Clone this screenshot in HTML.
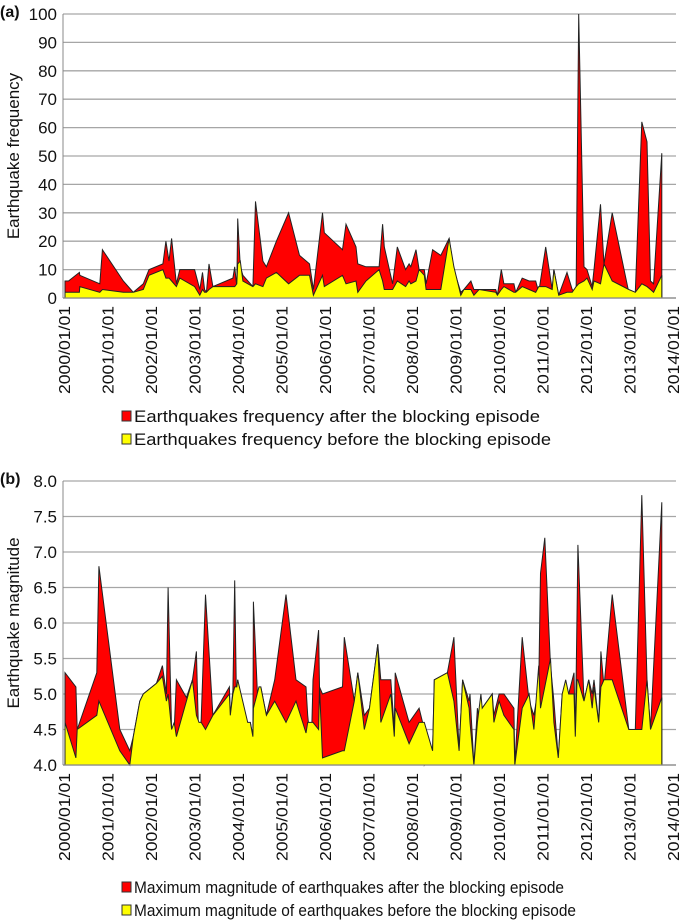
<!DOCTYPE html>
<html><head><meta charset="utf-8"><style>
html,body{margin:0;padding:0;background:#fff;}
svg{display:block;font-family:"Liberation Sans",Arial,sans-serif;}
</style></head><body>
<svg id="c" width="685" height="923" viewBox="0 0 685 923" xmlns="http://www.w3.org/2000/svg"></svg>
<script>
// Chart (a) data: decimal years, frequency after / before
const yearsA=[0.0,0.08,0.33,0.34,0.80,0.86,1.34,1.57,1.80,1.93,2.25,2.32,2.39,2.45,2.56,2.64,2.98,3.10,3.16,3.21,3.25,3.31,3.40,3.86,3.90,3.95,3.97,4.03,4.09,4.32,4.38,4.55,4.63,4.86,5.14,5.39,5.62,5.71,5.92,5.96,6.38,6.46,6.69,6.73,6.92,7.22,7.30,7.34,7.53,7.64,7.83,7.91,7.95,8.07,8.14,8.26,8.30,8.45,8.64,8.83,8.94,9.10,9.17,9.33,9.40,9.52,9.90,9.94,10.03,10.09,10.32,10.36,10.51,10.67,10.82,10.89,11.05,11.20,11.24,11.35,11.54,11.66,11.75,11.81,11.93,12.00,12.12,12.16,12.31,12.39,12.58,12.96,13.11,13.26,13.38,13.46,13.53,13.72];
const afterA=[6,6,9,8,5,17,6,2,5,10,12,20,13,21,5,10,10,3,9,3,2,12,4,7,11,4,28,11,8,4,34,13,11,20,30,15,12,3,30,23,17,26,18,12,11,11,26,18,5,18,10,12,11,17,10,10,5,17,15,21,10,2,3,6,3,3,3,1,10,5,5,2,7,6,6,2,18,3,10,1,9,3,2,100,11,10,4,10,33,12,30,2,2,62,55,6,5,51];
const beforeA=[2,2,2,4,2,3,2,2,3,8,10,7,7,6,4,7,4,1,3,2,2,3,4,4,4,5,12,13,6,4,5,4,7,9,5,8,8,1,8,4,8,5,6,2,6,10,6,3,3,6,4,6,5,6,10,8,3,3,3,21,11,1,3,3,1,3,2,1,3,4,2,2,4,3,2,4,4,3,10,1,2,2,4,5,6,7,3,6,5,12,6,3,2,5,4,3,2,8];
const ticksA=[0,10,20,30,40,50,60,70,80,90,100];
// Chart (b) data: decimal years, max magnitude after / before
const yearsB=[0.0,0.25,0.28,0.73,0.78,1.26,1.49,1.57,1.72,1.80,2.10,2.24,2.33,2.37,2.45,2.51,2.56,2.79,2.93,3.02,3.08,3.13,3.23,3.40,3.78,3.80,3.86,3.90,3.95,3.97,4.20,4.26,4.32,4.33,4.46,4.50,4.63,4.82,5.08,5.31,5.54,5.58,5.66,5.70,5.83,5.85,5.92,6.38,6.42,6.65,6.73,6.88,7.00,7.19,7.26,7.49,7.57,7.59,7.91,8.14,8.22,8.26,8.45,8.49,8.79,8.94,9.06,9.14,9.29,9.31,9.40,9.48,9.56,9.59,9.82,9.86,9.98,10.09,10.32,10.34,10.51,10.67,10.78,10.89,10.93,11.03,11.16,11.24,11.34,11.43,11.51,11.58,11.70,11.73,11.77,11.79,11.93,12.04,12.12,12.16,12.27,12.32,12.39,12.58,12.96,13.11,13.26,13.38,13.46,13.72];
const afterB=[5.3,5.1,4.5,5.3,6.8,4.5,4.2,4.4,4.9,5.0,5.15,5.4,5.0,6.5,4.5,4.5,5.2,4.95,5.2,5.6,4.2,4.65,6.4,4.7,5.1,4.7,5.05,6.6,4.6,5.2,4.3,4.6,4.4,6.3,4.5,5.1,4.7,5.2,6.4,5.2,5.1,4.7,4.2,5.2,5.9,5.1,5.0,5.1,5.8,4.9,5.3,4.7,4.8,5.7,5.2,5.2,4.5,5.3,4.6,4.8,4.6,4.0,4.2,5.2,5.3,5.8,4.2,5.2,4.9,5.0,4.0,4.8,4.5,4.8,5.0,4.7,5.0,5.0,4.8,4.0,5.8,4.9,4.7,5.1,6.7,7.2,5.4,4.9,4.1,5.0,4.7,5.0,5.3,4.4,6.1,7.1,4.9,5.2,5.0,5.2,4.6,5.6,5.1,6.4,4.5,4.5,7.8,5.2,4.5,7.7];
const beforeB=[4.6,4.1,4.5,4.7,4.9,4.2,4.0,4.4,4.9,5.0,5.15,5.25,4.9,5.0,4.5,4.6,4.4,4.9,5.2,4.7,4.6,4.6,4.5,4.7,5.0,4.7,5.0,5.1,5.1,5.2,4.6,4.6,4.4,4.8,5.1,5.1,4.7,4.9,4.6,4.9,4.45,4.6,4.6,4.6,4.5,5.1,4.1,4.2,4.2,4.9,5.3,4.5,4.8,5.7,4.6,5.0,4.4,4.8,4.3,4.6,4.6,4.6,4.2,5.2,5.3,4.9,4.2,5.2,4.8,4.6,4.0,4.6,5.0,4.8,5.0,4.6,4.9,4.7,4.5,4.0,4.8,5.0,4.5,5.4,4.8,5.1,5.5,4.6,4.1,5.0,5.2,5.0,5.0,4.4,5.2,5.2,4.9,5.2,4.8,5.1,4.6,5.1,5.2,5.2,4.5,4.5,4.5,5.2,4.5,4.95];
const ticksB=[4.0,4.5,5.0,5.5,6.0,6.5,7.0,7.5,8.0];
const dateLabels=["2000/01/01","2001/01/01","2002/01/01","2003/01/01","2004/01/01","2005/01/01","2006/01/01","2007/01/01","2008/01/01","2009/01/01","2010/01/01","2011/01/01","2012/01/01","2013/01/01","2014/01/01"];

const svg=document.getElementById('c');
const NS="http://www.w3.org/2000/svg";
function mk(tag,attrs,parent){const e=document.createElementNS(NS,tag);for(const k in attrs)e.setAttribute(k,attrs[k]);(parent||svg).appendChild(e);return e;}

function chart(o){
  const g=mk('g',{});
  
  
  const L=63,R=676,x0=65,xs=43.5;
  const X=t=>x0+t*xs;
  const Y=v=>o.bottom-(v-o.min)/(o.max-o.min)*(o.bottom-o.top);
  // gridlines and y ticks
  o.ticks.forEach(v=>{
    const gl=mk('line',{x1:L,x2:R,y1:Y(v),y2:Y(v),stroke:'#a6a6a6','stroke-width':1.3},g);
    
    
    const t=mk('text',{x:57,y:Y(v)+6,'text-anchor':'end','font-size':17,fill:'#111'},g);
    t.textContent=o.fmt(v);
    
    
  });
  mk('line',{x1:L,x2:L,y1:o.top,y2:o.bottom,stroke:'#888','stroke-width':1},g);
  // areas
  function area(vals,fill,nm){
    let d='M'+X(o.years[0])+','+Y(o.min);
    o.years.forEach((t,i)=>{d+=' L'+X(t).toFixed(1)+','+Y(vals[i]).toFixed(1);});
    d+=' L'+X(o.years[o.years.length-1])+','+Y(o.min)+' Z';
    const p=mk('path',{d:d,fill:fill,stroke:'#222','stroke-width':1,'stroke-linejoin':'miter'},g);
    
    
  }
  area(o.after,'#ff0000','after-series-area');
  area(o.before,'#ffff00','before-series-area');
  mk('line',{x1:L,x2:R,y1:o.bottom,y2:o.bottom,stroke:'#888','stroke-width':1.3},g);
  // x labels
  dateLabels.forEach((s,i)=>{
    const cx=X(i)+5;
    const t=mk('text',{x:0,y:0,transform:`translate(${cx},${o.bottom+8}) rotate(-90)`,'text-anchor':'end','font-size':16,fill:'#111',textLength:88,lengthAdjust:'spacingAndGlyphs'},g);
    t.textContent=s;
    
    
  });
  // y title
  const yt=mk('text',{x:0,y:0,transform:`translate(19,${(o.top+o.bottom)/2}) rotate(-90)`,'text-anchor':'middle','font-size':17,fill:'#111'},g);
  yt.textContent=o.ytitle;
  
  
  // panel letter
  const pl=mk('text',{x:0,y:o.top+3,'font-size':16,'font-weight':'bold',fill:'#111'},g);
  pl.textContent=o.letter;
  
  
  // legend
  o.legend.forEach((s,i)=>{
    const ly=o.legY+i*23;
    const r=mk('rect',{x:122,y:ly-11,width:9,height:10,fill:i==0?'#ff0000':'#ffff00',stroke:'#333','stroke-width':1},g);
    
    
    const t=mk('text',{x:134,y:ly,'font-size':17,fill:'#111',textLength:o.legW[i],lengthAdjust:'spacingAndGlyphs'},g);
    t.textContent=s;
    
    
  });
}
chart({name:'frequency-chart',letter:'(a)',top:14,bottom:298,min:0,max:100,ticks:ticksA,fmt:v=>String(v),
  years:yearsA,after:afterA,before:beforeA,ytitle:'Earthquake frequency',legY:422,legW:[406,417],
  legend:['Earthquakes frequency after the blocking episode','Earthquakes frequency before the blocking episode']});
chart({name:'magnitude-chart',letter:'(b)',top:481,bottom:765,min:4,max:8,ticks:ticksB,fmt:v=>v.toFixed(1),
  years:yearsB,after:afterB,before:beforeB,ytitle:'Earthquake magnitude',legY:893,legW:[430,442],
  legend:['Maximum magnitude of earthquakes after the blocking episode','Maximum magnitude of earthquakes before the blocking episode']});
</script>
</body></html>
